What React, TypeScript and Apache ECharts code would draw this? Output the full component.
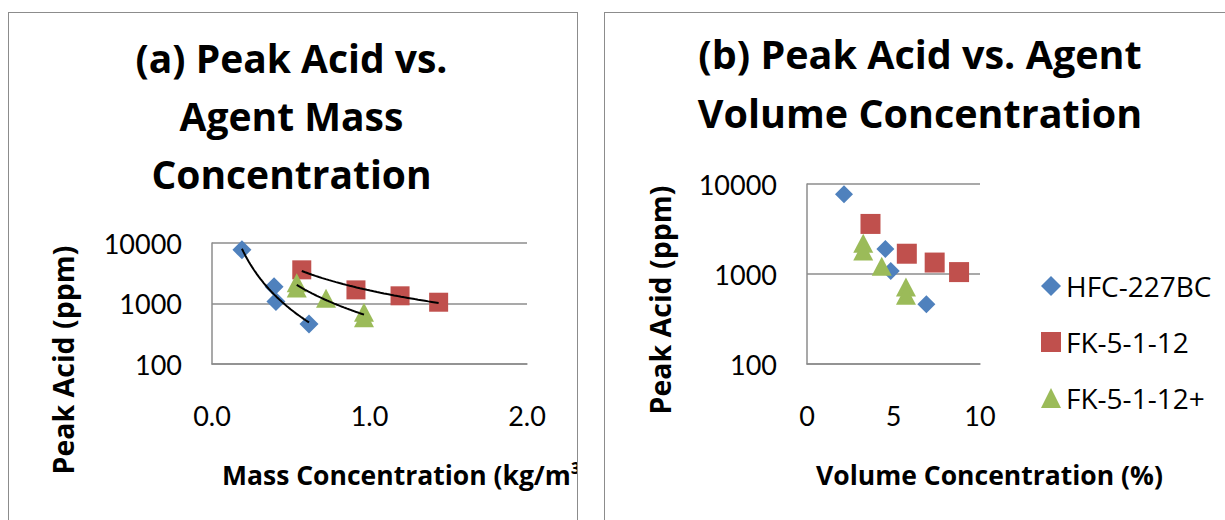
import React, { useEffect, useRef } from "react";
import * as echarts from "echarts";

// ---- data ----
const SERIES_NAMES = ["HFC-227BC", "FK-5-1-12", "FK-5-1-12+"];

const HFC_MASS = [0.19, 0.394, 0.406, 0.616];
const HFC_VOL = [2.14, 4.53, 4.84, 6.9];
const HFC_ACID = [7700, 1900, 1080, 460];

const FK_MASS = [0.57, 0.914, 1.194, 1.439];
const FK_VOL = [3.67, 5.77, 7.38, 8.79];
const FK_ACID = [3600, 1680, 1340, 1050];

const FKP_MASS = [0.538, 0.538, 0.724, 0.965, 0.965];
const FKP_VOL = [3.25, 3.25, 4.32, 5.72, 5.72];
const FKP_ACID = [2200, 1800, 1220, 715, 580];

const Y_TICKS = [100, 1000, 10000];
const MASS_TICKS = [0, 1, 2];
const VOL_TICKS = [0, 5, 10];

// ---- styling ----
const FONT = "Open Sans";
const TICK_FONT = "Lato";
const BLUE = "#4F81BD";
const RED = "#C0504D";
const GREEN = "#9BBB59";
const GRID_GRAY = "#8c8c8c";

const zip = (xs: number[], ys: number[]) => xs.map((x, i) => [x, ys[i]]);

// power-law trendline (least squares in log-log space), as Excel does
function powerTrend(xs: number[], ys: number[], steps = 40) {
  const lx = xs.map(Math.log);
  const ly = ys.map(Math.log);
  const n = xs.length;
  const mx = lx.reduce((a, b) => a + b, 0) / n;
  const my = ly.reduce((a, b) => a + b, 0) / n;
  let sxy = 0;
  let sxx = 0;
  for (let i = 0; i < n; i++) {
    sxy += (lx[i] - mx) * (ly[i] - my);
    sxx += (lx[i] - mx) * (lx[i] - mx);
  }
  const b = sxy / sxx;
  const a = Math.exp(my - b * mx);
  const x0 = Math.min(...xs);
  const x1 = Math.max(...xs);
  const pts: number[][] = [];
  for (let i = 0; i <= steps; i++) {
    const x = x0 + ((x1 - x0) * i) / steps;
    pts.push([x, a * Math.pow(x, b)]);
  }
  return pts;
}

function yAxisCfg() {
  return {
    type: "log",
    logBase: 10,
    min: Y_TICKS[0],
    max: Y_TICKS[Y_TICKS.length - 1],
    axisLine: { show: true, lineStyle: { color: GRID_GRAY, width: 1.5 } },
    axisTick: { show: false },
    splitLine: { show: true, lineStyle: { color: GRID_GRAY, width: 1.5 } },
    axisLabel: {
      margin: 30,
      fontFamily: TICK_FONT,
      fontSize: 27,
      color: "#000",
      formatter: (v: number) => String(Math.round(v)),
    },
  };
}

function xAxisCfg(ticks: number[], decimals: number) {
  return {
    type: "value",
    min: ticks[0],
    max: ticks[ticks.length - 1],
    interval: ticks[1] - ticks[0],
    axisLine: { show: true, lineStyle: { color: GRID_GRAY, width: 1.5 } },
    axisTick: { show: false },
    splitLine: { show: false },
    axisLabel: {
      margin: 38,
      fontFamily: TICK_FONT,
      fontSize: 27,
      color: "#000",
      formatter: (v: number) => v.toFixed(decimals),
    },
  };
}

function textEl(text: string, x: number, y: number, size: number, bold: boolean, align = "center", rotation = 0) {
  return {
    type: "text",
    x,
    y,
    rotation,
    z: 10,
    style: {
      text,
      fill: "#000",
      fontFamily: FONT,
      fontSize: size,
      fontWeight: bold ? "bold" : "normal",
      align,
      verticalAlign: "middle",
      textAlign: align,
      textVerticalAlign: "middle",
    },
  };
}

function scatter(name: string, data: number[][], symbol: string, size: number | number[], color: string, z: number) {
  return {
    name,
    type: "scatter",
    symbol,
    symbolSize: size,
    itemStyle: { color, opacity: 1 },
    data,
    z,
  };
}

function trend(data: number[][]) {
  return {
    type: "line",
    data,
    showSymbol: false,
    symbol: "none",
    smooth: false,
    lineStyle: { color: "#000", width: 2 },
    z: 10,
    silent: true,
  };
}

function optionA() {
  return {
    animation: false,
    grid: { left: 203, top: 230, width: 315, height: 121 },
    xAxis: xAxisCfg(MASS_TICKS, 1),
    yAxis: yAxisCfg(),
    series: [
      scatter(SERIES_NAMES[0], zip(HFC_MASS, HFC_ACID), "diamond", 19, BLUE, 2),
      scatter(SERIES_NAMES[1], zip(FK_MASS, FK_ACID), "rect", 19, RED, 3),
      scatter(SERIES_NAMES[2], zip(FKP_MASS, FKP_ACID), "triangle", [20, 19], GREEN, 4),
      trend(powerTrend(HFC_MASS, HFC_ACID)),
      trend(powerTrend(FK_MASS, FK_ACID)),
      trend(powerTrend(FKP_MASS, FKP_ACID)),
    ],
    graphic: [
      textEl("(a) Peak Acid vs.", 282.5, 44, 39, true),
      textEl("Agent Mass", 282.5, 102, 39, true),
      textEl("Concentration", 282.5, 160, 39, true),
      textEl("Peak Acid (ppm)", 54, 347, 28.5, true, "center", Math.PI / 2),
      textEl("Mass Concentration (kg/m\u00b3)", 213, 462, 26.5, true, "left"),
    ],
  };
}

function optionB() {
  return {
    animation: false,
    grid: { left: 202, top: 171, width: 173, height: 180 },
    xAxis: xAxisCfg(VOL_TICKS, 0),
    yAxis: yAxisCfg(),
    legend: {
      orient: "vertical",
      left: 431,
      top: 254,
      itemWidth: 20,
      itemHeight: 20,
      itemGap: 28,
      data: SERIES_NAMES,
      textStyle: {
        fontFamily: FONT,
        fontSize: 28,
        lineHeight: 26,
        color: "#000",
      },
    },
    series: [
      scatter(SERIES_NAMES[0], zip(HFC_VOL, HFC_ACID), "diamond", 18, BLUE, 2),
      scatter(SERIES_NAMES[1], zip(FK_VOL, FK_ACID), "rect", 20, RED, 3),
      scatter(SERIES_NAMES[2], zip(FKP_VOL, FKP_ACID), "triangle", [20, 19], GREEN, 4),
    ],
    graphic: [
      textEl("(b) Peak Acid vs. Agent", 315, 41, 39.5, true),
      textEl("Volume Concentration", 315, 99.5, 39.5, true),
      textEl("Peak Acid (ppm)", 55, 287, 28.5, true, "center", Math.PI / 2),
      textEl("Volume Concentration (%)", 384.5, 462, 26.5, true, "center"),
    ],
  };
}

function Chart({ option, style }: { option: any; style: React.CSSProperties }) {
  const ref = useRef<HTMLDivElement>(null);
  useEffect(() => {
    if (!ref.current) return;
    const chart = echarts.init(ref.current, undefined, { renderer: "svg" });
    chart.setOption(option);
    return () => chart.dispose();
  }, [option]);
  return <div ref={ref} style={style} />;
}

const OPT_A = optionA();
const OPT_B = optionB();

export default function App() {
  return (
    <div
      style={{
        position: "fixed",
        left: 0,
        top: 0,
        width: 1225,
        height: 520,
        overflow: "hidden",
        background: "#fff",
      }}
    >
      <Chart option={OPT_A} style={{ position: "absolute", left: 9, top: 13, width: 568, height: 507 }} />
      <Chart option={OPT_B} style={{ position: "absolute", left: 605, top: 13, width: 620, height: 507 }} />
      <div
        style={{
          position: "absolute",
          left: 8,
          top: 12,
          width: 570,
          height: 540,
          border: "1.5px solid #8c8c8c",
          boxSizing: "border-box",
          pointerEvents: "none",
        }}
      />
      <div
        style={{
          position: "absolute",
          left: 604,
          top: 12,
          width: 660,
          height: 540,
          border: "1.5px solid #8c8c8c",
          boxSizing: "border-box",
          pointerEvents: "none",
        }}
      />
    </div>
  );
}
